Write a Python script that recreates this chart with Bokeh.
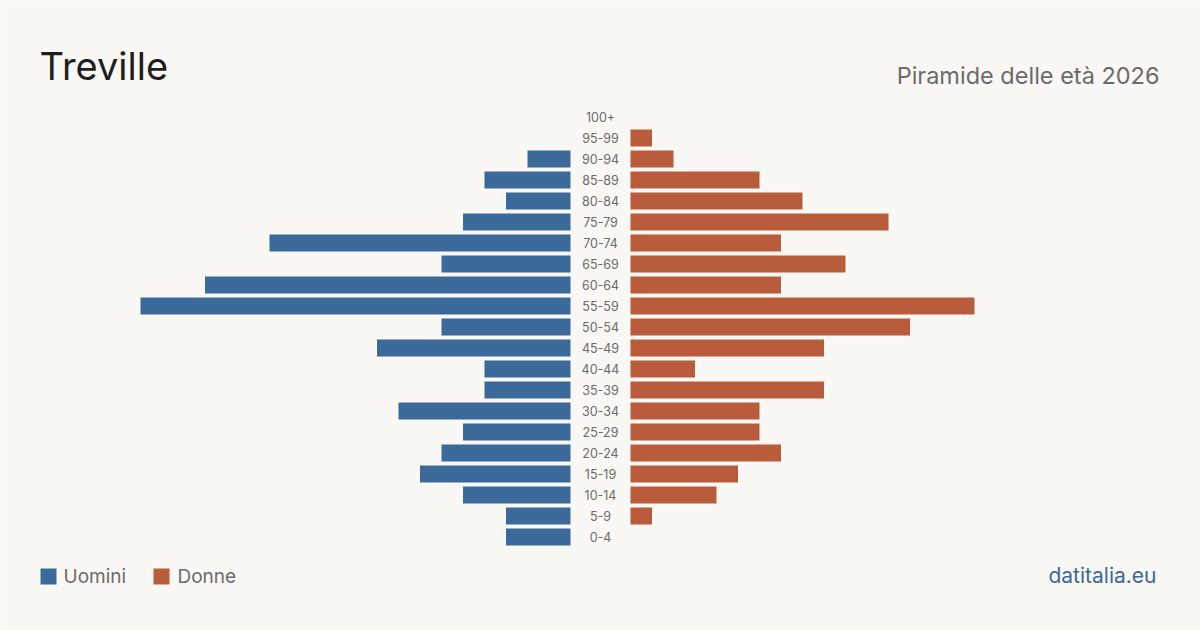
from bokeh.plotting import figure
from bokeh.models import Range1d, Label, ColumnDataSource
from bokeh.core.properties import value
from bokeh.embed import file_html
from bokeh.resources import INLINE

# ---- data ----
age_groups = ["0-4", "5-9", "10-14", "15-19", "20-24", "25-29", "30-34", "35-39",
              "40-44", "45-49", "50-54", "55-59", "60-64", "65-69", "70-74", "75-79",
              "80-84", "85-89", "90-94", "95-99", "100+"]
men   = [3, 3, 5, 7, 6, 5, 8, 4, 4, 9, 6, 20, 17, 6, 14, 5, 3, 4, 2, 0, 0]
women = [0, 1, 4, 5, 7, 6, 6, 9, 3, 9, 13, 16, 7, 10, 7, 12, 8, 6, 2, 1, 0]

title = "Treville"
subtitle = "Piramide delle età 2026"
legend_labels = ["Uomini", "Donne"]
source_text = "datitalia.eu"

# ---- style ----
W, H = 1200, 630
BG = "#f9f8f4"
BLUE = "#3b6a9a"
ORANGE = "#b95c3c"
GRAY = "#6b6b6b"
FONT = "Inter"
PX_PER_UNIT = 21.5
ROW_PX = 21.0
ROW0_PX = 536.5          # pixel (from top) of the first row centre
GAP = 30 / PX_PER_UNIT    # half gap for the labels, in data units
BAR_H = 17 / ROW_PX

p = figure(width=W, height=H, output_backend="svg", toolbar_location=None,
           x_range=Range1d(-W / 2 / PX_PER_UNIT, W / 2 / PX_PER_UNIT),
           y_range=Range1d(-(H - ROW0_PX) / ROW_PX, ROW0_PX / ROW_PX),
           min_border=0, min_border_left=0, min_border_right=0,
           min_border_top=0, min_border_bottom=0)
p.axis.visible = False
p.grid.visible = False
p.outline_line_color = None
p.background_fill_color = BG
p.border_fill_color = BG

idx = list(range(len(age_groups)))
src = ColumnDataSource(dict(
    y=idx, label=age_groups,
    m_left=[-GAP - v for v in men], m_right=[-GAP] * len(men),
    w_left=[GAP] * len(women), w_right=[GAP + v for v in women],
    men=men, women=women,
))

p.hbar(y="y", left="m_left", right="m_right", height=BAR_H, source=src,
       fill_color=BLUE, line_color=None)
p.hbar(y="y", left="w_left", right="w_right", height=BAR_H, source=src,
       fill_color=ORANGE, line_color=None)

p.text(x=0, y="y", text="label", source=src, text_align="center",
       text_baseline="middle", text_font=value(FONT), text_font_size="12.5px",
       text_color=GRAY)

def px2x(px):
    return (px - W / 2) / PX_PER_UNIT

def px2y(py):
    return (ROW0_PX - py) / ROW_PX

# legend swatches
p.quad(left=[px2x(40), px2x(153)], right=[px2x(56), px2x(169)],
       top=[px2y(568), px2y(568)], bottom=[px2y(584), px2y(584)],
       fill_color=[BLUE, ORANGE], line_color=None)

def add_label(text, x, baseline_px, size, color, align="left"):
    # empirical correction for the rendered baseline position
    y_top = baseline_px - 0.42 * size
    p.add_layout(Label(x=x, y=H - y_top, x_units="screen", y_units="screen",
                       text=text, text_font=FONT, text_font_size=f"{size}px",
                       text_color=color, text_align=align,
                       text_baseline="alphabetic"))

add_label(title, 39, 81, 38, "#1e1e1e")
add_label(subtitle, 1159, 84.5, 23.5, GRAY, "right")
add_label(legend_labels[0], 63, 584, 19, GRAY)
add_label(legend_labels[1], 177, 584, 19, GRAY)
add_label(source_text, 1156, 583.5, 21, BLUE, "right")

open("out.html", "w").write(file_html(p, INLINE))
